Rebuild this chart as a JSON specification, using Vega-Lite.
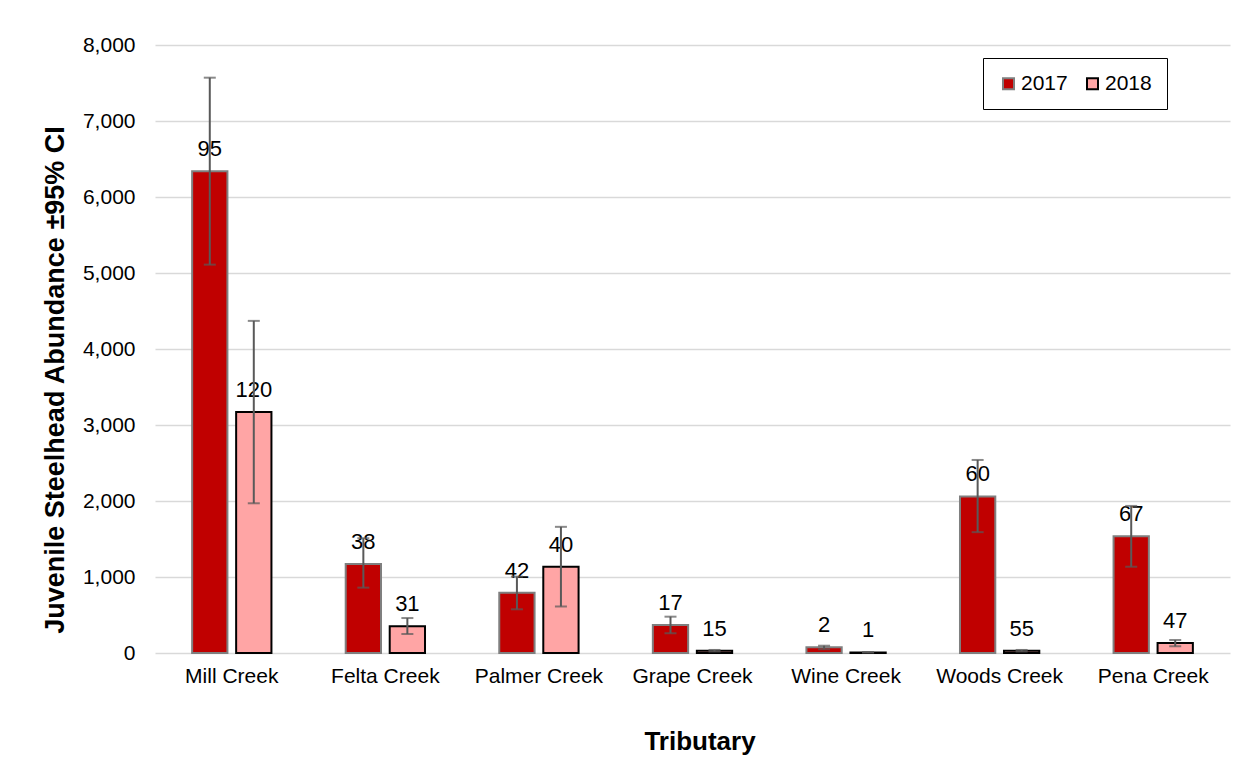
{
  "$schema": "https://vega.github.io/schema/vega-lite/v6.json",
  "width": 1075,
  "height": 608,
  "autosize": {"type": "none"},
  "padding": {"left": 155, "top": 45, "right": 18, "bottom": 118},
  "background": "white",
  "config": {
    "font": "Liberation Sans",
    "view": {"stroke": null},
    "axis": {"labelFont": "Liberation Sans", "titleFont": "Liberation Sans", "labelColor": "#000000", "titleColor": "#000000"}
  },
  "data": {
    "values": [
      {"Tributary": "Mill Creek", "Year": "2017", "Abundance": 6340, "Lower": 5110, "Upper": 7570, "n": 95},
      {"Tributary": "Mill Creek", "Year": "2018", "Abundance": 3170, "Lower": 1970, "Upper": 4370, "n": 120},
      {"Tributary": "Felta Creek", "Year": "2017", "Abundance": 1170, "Lower": 860, "Upper": 1510, "n": 38},
      {"Tributary": "Felta Creek", "Year": "2018", "Abundance": 352, "Lower": 250, "Upper": 460, "n": 31},
      {"Tributary": "Palmer Creek", "Year": "2017", "Abundance": 792, "Lower": 575, "Upper": 1005, "n": 42},
      {"Tributary": "Palmer Creek", "Year": "2018", "Abundance": 1135, "Lower": 612, "Upper": 1660, "n": 40},
      {"Tributary": "Grape Creek", "Year": "2017", "Abundance": 368, "Lower": 260, "Upper": 478, "n": 17},
      {"Tributary": "Grape Creek", "Year": "2018", "Abundance": 30, "Lower": 20, "Upper": 40, "n": 15},
      {"Tributary": "Wine Creek", "Year": "2017", "Abundance": 75, "Lower": 50, "Upper": 96, "n": 2},
      {"Tributary": "Wine Creek", "Year": "2018", "Abundance": 8, "Lower": 5, "Upper": 12, "n": 1},
      {"Tributary": "Woods Creek", "Year": "2017", "Abundance": 2060, "Lower": 1590, "Upper": 2540, "n": 60},
      {"Tributary": "Woods Creek", "Year": "2018", "Abundance": 30, "Lower": 20, "Upper": 40, "n": 55},
      {"Tributary": "Pena Creek", "Year": "2017", "Abundance": 1535, "Lower": 1135, "Upper": 1935, "n": 67},
      {"Tributary": "Pena Creek", "Year": "2018", "Abundance": 130, "Lower": 88, "Upper": 171, "n": 47}
    ]
  },
  "encoding": {
    "x": {
      "field": "Tributary", "type": "nominal", "sort": null,
      "scale": {"paddingInner": 0.4836, "paddingOuter": 0.2418},
      "axis": {
        "title": "Tributary", "labelAngle": 0, "labelFontSize": 21, "labelPadding": 12,
        "ticks": false, "domain": false,
        "titleFontSize": 26, "titleFontWeight": "bold",
        "titleX": 544.5, "titleY": 88, "titleBaseline": "middle", "titleAlign": "center"
      }
    },
    "xOffset": {"field": "Year", "type": "nominal", "scale": {"paddingInner": 0.198, "paddingOuter": 0}}
  },
  "layer": [
    {
      "mark": {"type": "bar", "strokeWidth": 2},
      "encoding": {
        "y": {
          "field": "Abundance", "type": "quantitative",
          "scale": {"domain": [0, 8000], "nice": false},
          "axis": {
            "title": "Juvenile Steelhead Abundance ±95% CI",
            "values": [0, 1000, 2000, 3000, 4000, 5000, 6000, 7000, 8000],
            "format": ",.0f", "labelFontSize": 21, "labelPadding": 20,
            "ticks": false, "domain": false,
            "grid": true, "gridColor": "#D9D9D9", "gridWidth": 1.5,
            "titleFontSize": 27, "titleFontWeight": "bold", "titleAngle": 270,
            "titleX": -100, "titleY": 334.5, "titleBaseline": "middle", "titleAlign": "center"
          }
        },
        "fill": {
          "field": "Year", "type": "nominal",
          "scale": {"domain": ["2017", "2018"], "range": ["#C00000", "#FFA5A5"]},
          "legend": {
            "title": null, "orient": "none", "legendX": 828, "legendY": 13,
            "direction": "horizontal", "columns": 2, "columnPadding": 14,
            "symbolType": "square", "symbolSize": 121, "symbolStrokeWidth": 2,
            "labelFontSize": 21, "labelFont": "Liberation Sans", "labelColor": "#000000", "labelOffset": 2,
            "padding": 15, "strokeColor": "#000000", "fillColor": "#FFFFFF"
          }
        },
        "stroke": {
          "field": "Year", "type": "nominal",
          "scale": {"domain": ["2017", "2018"], "range": ["#7F7F7F", "#000000"]},
          "legend": {
            "title": null, "orient": "none", "legendX": 828, "legendY": 13,
            "direction": "horizontal", "columns": 2, "columnPadding": 14,
            "symbolType": "square", "symbolSize": 121, "symbolStrokeWidth": 2,
            "labelFontSize": 21, "labelFont": "Liberation Sans", "labelColor": "#000000", "labelOffset": 2,
            "padding": 15, "strokeColor": "#000000", "fillColor": "#FFFFFF"
          }
        }
      }
    },
    {
      "mark": {"type": "text", "fontSize": 22, "baseline": "alphabetic", "dy": -15, "color": "#000000"},
      "encoding": {
        "y": {"field": "Abundance", "type": "quantitative"},
        "text": {"field": "n", "type": "quantitative"}
      }
    },
    {
      "mark": {"type": "rule", "color": "#595959", "strokeWidth": 2},
      "encoding": {
        "y": {"field": "Lower", "type": "quantitative"},
        "y2": {"field": "Upper"}
      }
    },
    {
      "mark": {"type": "tick", "color": "#595959", "thickness": 2, "size": 12, "orient": "horizontal"},
      "encoding": {"y": {"field": "Lower", "type": "quantitative"}}
    },
    {
      "mark": {"type": "tick", "color": "#595959", "thickness": 2, "size": 12, "orient": "horizontal"},
      "encoding": {"y": {"field": "Upper", "type": "quantitative"}}
    }
  ]
}
